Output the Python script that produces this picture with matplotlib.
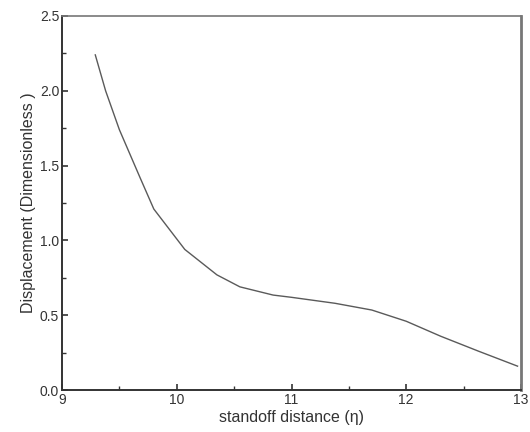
import matplotlib
matplotlib.use("Agg")
import matplotlib.pyplot as plt
from matplotlib.ticker import MultipleLocator, FormatStrFormatter

# standoff distance vs displacement
eta = [9.29, 9.38, 9.5, 9.68, 9.8, 10.07, 10.35, 10.55, 10.84, 11.0, 11.38, 11.7, 12.0, 12.3, 12.63, 12.97]
disp = [2.24, 2.0, 1.74, 1.42, 1.21, 0.94, 0.77, 0.69, 0.635, 0.62, 0.58, 0.535, 0.46, 0.36, 0.26, 0.16]

plt.rcParams['font.family'] = ['Liberation Sans', 'DejaVu Sans']

fig = plt.figure(figsize=(5.3, 4.32), dpi=100)
ax = fig.add_axes([0.117, 0.097, 0.866, 0.866])

ax.plot(eta, disp, color='#5a5a5a', lw=1.0)

ax.set_xlim(9, 13)
ax.set_ylim(0, 2.5)
ax.xaxis.set_major_locator(MultipleLocator(1))
ax.xaxis.set_minor_locator(MultipleLocator(0.5))
ax.yaxis.set_major_locator(MultipleLocator(0.5))
ax.yaxis.set_minor_locator(MultipleLocator(0.25))
ax.yaxis.set_major_formatter(FormatStrFormatter('%.1f'))
ax.tick_params(which='both', direction='in', colors='#333333', labelsize=10, labelcolor='#333333')
ax.tick_params(which='major', length=4, width=1.2)
ax.tick_params(which='minor', length=3, width=1.0)
ax.tick_params(axis='x', pad=2)
ax.tick_params(axis='y', pad=2)

for s in ['left', 'bottom']:
    ax.spines[s].set_linewidth(1.4)
    ax.spines[s].set_color('#333333')
ax.spines['top'].set_linewidth(1.2)
ax.spines['top'].set_color('#777777')
ax.spines['right'].set_linewidth(2.0)
ax.spines['right'].set_color('#777777')

ax.set_xlabel('standoff distance (η)', fontsize=11.5, color='#333333', labelpad=2)
ax.set_ylabel('Displacement (Dimensionless )', fontsize=11.5, color='#333333', labelpad=3)

plt.savefig('out.png', dpi=100)
